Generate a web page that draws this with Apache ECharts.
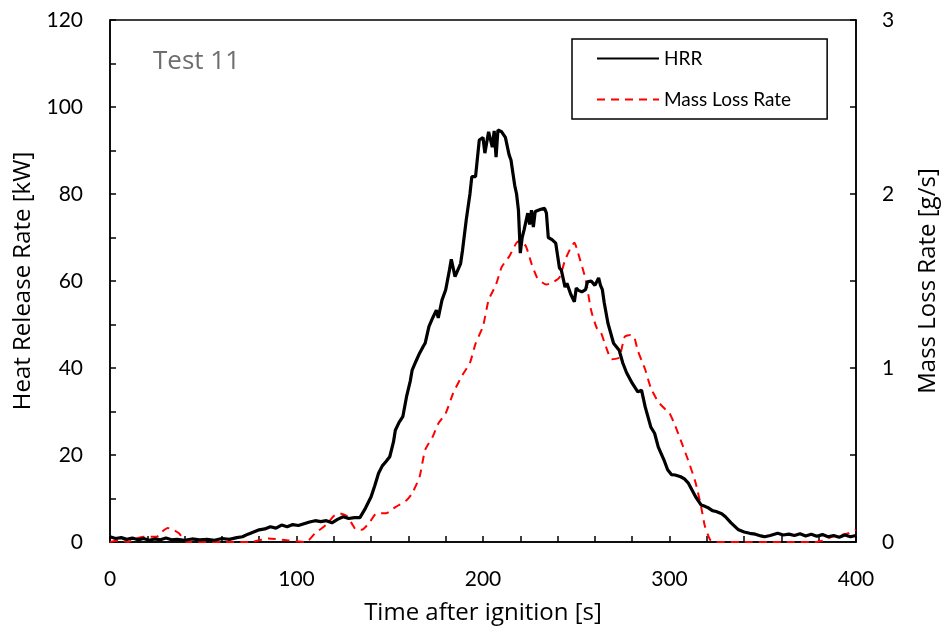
<!DOCTYPE html>
<html>
<head>
<meta charset="utf-8">
<script src="https://cdn.jsdelivr.net/npm/echarts@6/dist/echarts.min.js"></script>
<style>html,body{margin:0;padding:0;background:#fff}#c{width:948px;height:637px}</style>
</head>
<body>
<div id="c"></div>
<script>
// ---- data ----
const hrrTime = [0,3,6,9,12,15,18,21,24,27,30,33,36,40,44,48,52,56,60,64,68,71,74,77,80,83,86,89,92,95,98,101,104,107,110,113,116,119,122,125,128,131,134,137,140,142,144,146,148,150,152,153,155,157,159,161,162,164,166,168,169,171,173,175,176,178,180,182,183,184,185,186,188,189,191,193,194,196,198,200,201,203,205,206,207,208,210,212,214,215,217,218,219,220,221,222,224,225,226,227,228,229,231,233,234,235,237,239,241,242,244,245,247,249,250,251,253,255,256,258,259,260,262,263,264,265,267,270,273,275,277,280,283,285,287,290,292,294,297,299,301,303,306,308,310,312,314,317,319,321,323,325,326,328,330,333,337,340,343,346,349,351,354,358,361,364,367,370,373,376,379,382,385,388,391,394,397,400];
const hrrValue = [1.2,0.8,1.0,0.6,0.9,0.5,0.8,0.4,0.7,0.5,0.9,0.5,0.6,0.4,0.7,0.5,0.6,0.4,0.8,0.6,1.0,1.2,1.8,2.3,2.8,3.0,3.5,3.2,3.9,3.5,4.0,3.8,4.2,4.6,4.9,4.7,4.9,4.4,5.2,5.8,5.4,5.6,5.6,7.8,10.4,13,15.8,17.5,18.5,19.6,23,25.7,27.5,28.8,33.4,37,39.5,41.5,43.4,45,45.7,49.5,51.5,53.3,51.5,55.6,58,62.5,65,64.8,61,60.7,64,67,74,80,84,84,92.4,93,89.4,94.3,90.8,94.5,88.5,94.7,94.3,93,89,87.8,82,80,76.3,66.4,70,71.7,75.6,73,76.3,72.4,76,75.9,76.5,76.7,75.6,70,69.5,68.7,63,62.5,58.6,59.5,57,55.2,58.4,57.9,57.5,58,59.8,60,60.2,59,60.7,59,58,55,50.3,45.7,44.1,41.1,38.9,36.5,34.5,34.9,31,26.4,25,21.8,18.9,16.6,15.5,15.4,15,14.5,13.6,12,10.4,8.5,8.2,7.8,7.2,7,7.4,6.5,5.8,4.4,2.8,2.3,2.0,1.8,1.4,1.2,1.5,2.0,1.6,1.8,1.5,1.9,1.4,1.8,1.3,1.7,1.2,1.5,1.1,1.6,1.2,1.5];
const mlrTime = [0,5,10,14,18,25,28,31,34,37,41,45,60,75,85,95,105,110,116,120,123,127,130,132,135,139,143,146,148,153,159,162,166,169,173,176,180,184,189,193,196,200,203,207,210,214,218,220,223,226,229,232,234,237,241,244,247,249,251,255,258,261,263,266,269,273,276,279,281,283,287,290,294,298,300,303,306,310,314,317,319,322,325,340,360,378,383,387,392,396,400];
const mlrValue = [0,0.01,0,0.02,0.03,0.03,0.06,0.08,0.07,0.05,0,0,0,0,0.02,0.01,0,0.05,0.1,0.15,0.165,0.15,0.1,0.07,0.07,0.11,0.165,0.165,0.165,0.2,0.24,0.28,0.375,0.53,0.605,0.68,0.74,0.855,0.96,1.03,1.14,1.24,1.39,1.48,1.58,1.64,1.72,1.73,1.7,1.6,1.52,1.49,1.48,1.49,1.52,1.62,1.69,1.72,1.66,1.51,1.33,1.23,1.21,1.12,1.05,1.06,1.18,1.19,1.18,1.1,0.99,0.885,0.805,0.76,0.74,0.67,0.585,0.47,0.34,0.2,0.09,0.01,0,0,0,0,0.01,0.03,0.04,0.05,0.07];
const seriesNames = ['HRR','Mass Loss Rate'];
const xTitle = 'Time after ignition [s]';
const yLeftTitle = 'Heat Release Rate [kW]';
const yRightTitle = 'Mass Loss Rate [g/s]';
const annotation = 'Test 11';

const FONT = 'Lato';
const NFONT = 'Open Sans';
const zip = (a,b)=>a.map((t,i)=>[t,b[i]]);
const chart = echarts.init(document.getElementById('c'), null, {renderer:'canvas'});
const axisCommon = {
  axisLine:{show:true,onZero:false,lineStyle:{color:'#000',width:1.5}},
  axisTick:{show:true,inside:true,length:6,lineStyle:{color:'#000',width:1.5}},
  splitLine:{show:false},
  nameTextStyle:{color:'#000',fontFamily:NFONT,fontSize:24},
};
chart.setOption({
  animation:false,
  backgroundColor:'#fff',
  textStyle:{fontFamily:FONT},
  grid:{left:110,right:90,top:20,bottom:95,show:true,borderColor:'#000',borderWidth:1.5,containLabel:false},
  title:{text:annotation,left:148,top:44,textStyle:{color:'#6e6e6e',fontFamily:NFONT,fontSize:26,fontWeight:'normal'}},
  legend:{
    data:[{name:seriesNames[0]},{name:seriesNames[1]}],
    orient:'vertical',left:572,top:39,
    itemWidth:62,itemHeight:14,itemGap:22,
    padding:[10,36,10,24],
    itemStyle:{opacity:0},
    borderColor:'#000',borderWidth:1.5,
    textStyle:{color:'#000',fontFamily:FONT,fontSize:19}
  },
  xAxis:Object.assign({},axisCommon,{
    type:'value',min:0,max:400,interval:20,
    name:xTitle,nameLocation:'middle',nameGap:59,
    axisLabel:{color:'#000',fontFamily:FONT,fontSize:21,margin:27,
      formatter:v=>(v%100===0?String(v):'')}
  }),
  yAxis:[
    Object.assign({},axisCommon,{
      type:'value',min:0,max:120,interval:10,position:'left',
      name:yLeftTitle,nameLocation:'middle',nameGap:72,
      axisLabel:{color:'#000',fontFamily:FONT,fontSize:21,margin:27,
        formatter:v=>(v%20===0?String(v):'')}
    }),
    Object.assign({},axisCommon,{
      type:'value',min:0,max:3,interval:0.5,position:'right',
      name:yRightTitle,nameLocation:'middle',nameGap:60,
      axisLabel:{color:'#000',fontFamily:FONT,fontSize:21,margin:26,
        formatter:v=>(Number.isInteger(v)?String(v):'')}
    })
  ],
  series:[
    {name:seriesNames[0],type:'line',yAxisIndex:0,data:zip(hrrTime,hrrValue),showSymbol:false,symbol:'none',
      lineStyle:{color:'#000',width:3.2},itemStyle:{color:'#000'},z:3},
    {name:seriesNames[1],type:'line',yAxisIndex:1,data:zip(mlrTime,mlrValue),showSymbol:false,symbol:'none',smooth:0.2,
      lineStyle:{color:'#ff0000',width:2,type:[8,6]},itemStyle:{color:'#ff0000'},z:2}
  ]
});
</script>
</body>
</html>
